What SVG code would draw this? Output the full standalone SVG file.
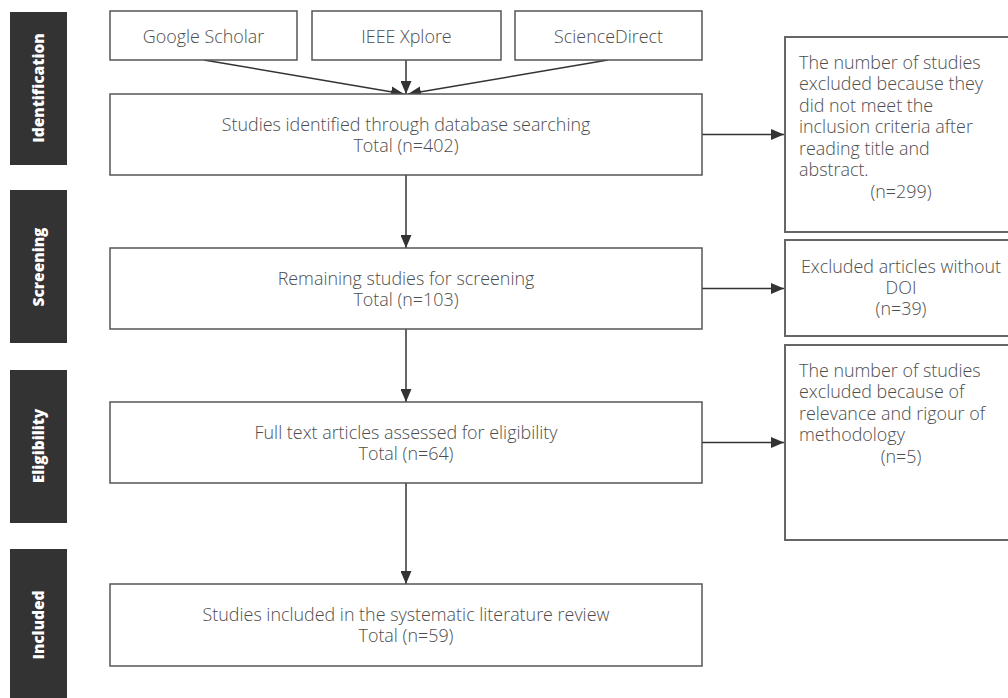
<svg xmlns="http://www.w3.org/2000/svg" width="1008" height="698" viewBox="0 0 1008 698">
<style>
.bar{fill:#333333}
.bl{font-family:"Open Sans","Liberation Sans",sans-serif;font-weight:800;font-size:15.5px;fill:#ffffff;text-anchor:middle}
.box{fill:#ffffff;stroke:#555555;stroke-width:1.5}
.xbox{fill:#ffffff;stroke:#666666;stroke-width:2}
.t{font-family:"Open Sans","Liberation Sans",sans-serif;font-size:17.9px;font-weight:300;fill:#4d4d4d}
.c{text-anchor:middle}
.e{stroke:#333333;stroke-width:1.5;fill:none;marker-end:url(#ah)}
</style>
<defs>
<marker id="ah" viewBox="0 0 13 11" refX="13" refY="5.5" markerWidth="13" markerHeight="11" markerUnits="userSpaceOnUse" orient="auto">
<path d="M0,0 L13,5.5 L0,11 z" fill="#333333"/>
</marker>
</defs>
<rect width="1008" height="698" fill="#ffffff"/>
<g id="stage-identification"><rect class="bar" x="10" y="12" width="57" height="153"/><text class="bl" transform="translate(44,88) rotate(-90)">Identification</text></g>
<g id="stage-screening"><rect class="bar" x="10" y="190" width="57" height="153"/><text class="bl" transform="translate(44,267) rotate(-90)">Screening</text></g>
<g id="stage-eligibility"><rect class="bar" x="10" y="370" width="57" height="153"/><text class="bl" transform="translate(44,446) rotate(-90)">Eligibility</text></g>
<g id="stage-included"><rect class="bar" x="10" y="549" width="57" height="160"/><text class="bl" transform="translate(44,625) rotate(-90)">Included</text></g>
<g id="connectors">
<line class="e" x1="204" y1="60" x2="404" y2="94"/>
<line class="e" x1="406" y1="60" x2="406" y2="94"/>
<line class="e" x1="608" y1="60" x2="408" y2="94"/>
<line class="e" x1="406" y1="175" x2="406" y2="248"/>
<line class="e" x1="406" y1="329" x2="406" y2="402"/>
<line class="e" x1="406" y1="483" x2="406" y2="584"/>
<line class="e" x1="702" y1="134.5" x2="784" y2="134.5"/>
<line class="e" x1="702" y1="288.5" x2="784" y2="288.5"/>
<line class="e" x1="702" y1="442.5" x2="784" y2="442.5"/>
</g>
<g id="google-scholar"><rect class="box" x="110" y="11" width="187" height="49"/><text class="t c" x="203.5" y="43">Google Scholar</text></g>
<g id="ieee-xplore"><rect class="box" x="312" y="11" width="189" height="49"/><text class="t c" x="406.5" y="43">IEEE Xplore</text></g>
<g id="sciencedirect"><rect class="box" x="515" y="11" width="187" height="49"/><text class="t c" x="608.5" y="43">ScienceDirect</text></g>
<g id="identified"><rect class="box" x="110" y="94" width="592" height="81"/><text class="t c" x="406" y="130.5">Studies identified through database searching</text><text class="t c" x="406" y="152">Total (n=402)</text></g>
<g id="screening"><rect class="box" x="110" y="248" width="592" height="81"/><text class="t c" x="406" y="284.5">Remaining studies for screening</text><text class="t c" x="406" y="306">Total (n=103)</text></g>
<g id="eligibility"><rect class="box" x="110" y="402" width="592" height="81"/><text class="t c" x="406" y="438.5">Full text articles assessed for eligibility</text><text class="t c" x="406" y="460">Total (n=64)</text></g>
<g id="included"><rect class="box" x="110" y="584" width="592" height="82"/><text class="t c" x="406" y="620.5">Studies included in the systematic literature review</text><text class="t c" x="406" y="642">Total (n=59)</text></g>
<g id="excluded-1"><rect class="xbox" x="785" y="37" width="240" height="195"/>
<text class="t" x="799" y="68.5">The number of studies</text>
<text class="t" x="799" y="90">excluded because they</text>
<text class="t" x="799" y="111.5">did not meet the</text>
<text class="t" x="799" y="133">inclusion criteria after</text>
<text class="t" x="799" y="154.5">reading title and</text>
<text class="t" x="799" y="176">abstract.</text>
<text class="t c" x="901" y="197.5">(n=299)</text></g>
<g id="excluded-2"><rect class="xbox" x="785" y="240" width="240" height="96"/>
<text class="t c" x="901" y="272.5">Excluded articles without</text>
<text class="t c" x="901" y="293.5">DOI</text>
<text class="t c" x="901" y="314.5">(n=39)</text></g>
<g id="excluded-3"><rect class="xbox" x="785" y="345" width="240" height="195"/>
<text class="t" x="799" y="376.5">The number of studies</text>
<text class="t" x="799" y="398">excluded because of</text>
<text class="t" x="799" y="419.5">relevance and rigour of</text>
<text class="t" x="799" y="441">methodology</text>
<text class="t c" x="901" y="462.5">(n=5)</text></g>
</svg>
